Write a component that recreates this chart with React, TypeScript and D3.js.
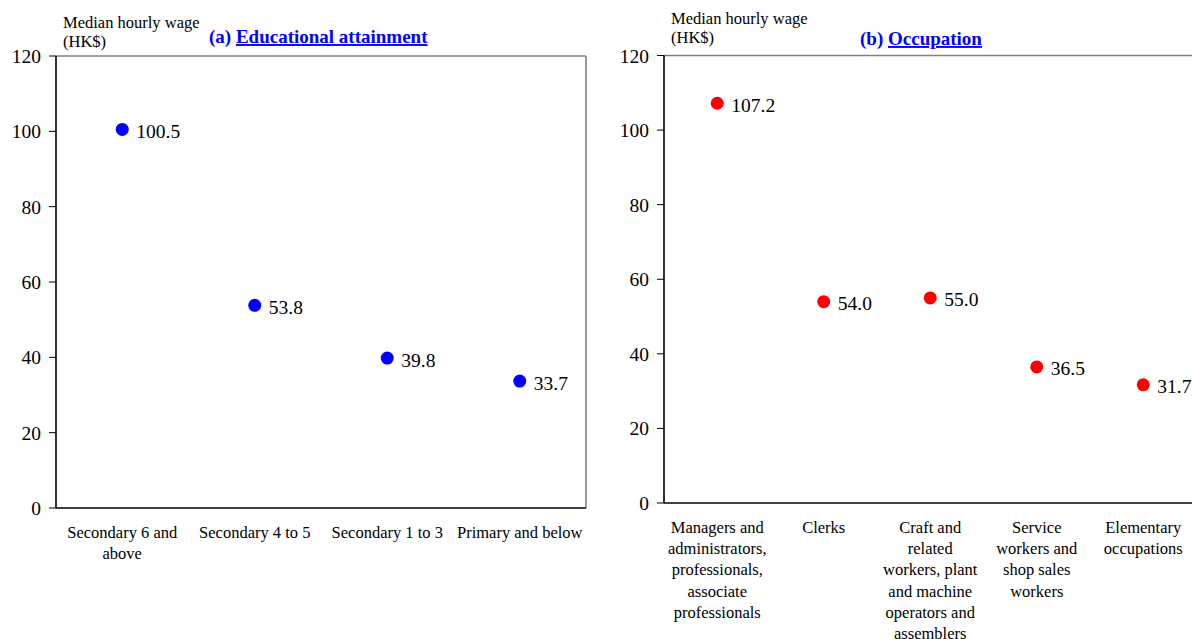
import React from "react";
import * as d3 from "d3";

// Panel (a): median hourly wage by educational attainment
const eduCategories: string[][] = [
  ["Secondary 6 and", "above"],
  ["Secondary 4 to 5"],
  ["Secondary 1 to 3"],
  ["Primary and below"],
];
const eduValues: number[] = [100.5, 53.8, 39.8, 33.7];

// Panel (b): median hourly wage by occupation
const occCategories: string[][] = [
  ["Managers and", "administrators,", "professionals,", "associate", "professionals"],
  ["Clerks"],
  ["Craft and", "related", "workers, plant", "and machine", "operators and", "assemblers"],
  ["Service", "workers and", "shop sales", "workers"],
  ["Elementary", "occupations"],
];
const occValues: number[] = [107.2, 54.0, 55.0, 36.5, 31.7];

const yTicks: number[] = [0, 20, 40, 60, 80, 100, 120];

const FONT = "'Liberation Serif', 'Times New Roman', serif";

interface PanelProps {
  left: number;
  right: number;
  top: number;
  bottom: number;
  categories: string[][];
  values: number[];
  color: string;
  prefix: string;
  title: string;
  titleX: number;
  titleY: number;
  unitY: number;
  drawRightBorder: boolean;
}

function Panel(p: PanelProps) {
  const keys = p.categories.map((c) => c.join(" "));
  const x = d3.scaleBand<string>().domain(keys).range([p.left, p.right]).padding(0);
  const y = d3.scaleLinear().domain([0, 120]).range([p.bottom, p.top]);
  const cx = (i: number) => (x(keys[i]) as number) + x.bandwidth() / 2;

  return (
    <g>
      {/* plot frame: grey top and right edges */}
      <line x1={p.left} x2={p.right} y1={p.top} y2={p.top} stroke="#808080" strokeWidth={1.6} />
      {p.drawRightBorder && (
        <line x1={p.right} x2={p.right} y1={p.top} y2={p.bottom} stroke="#808080" strokeWidth={1.6} />
      )}
      {/* axes */}
      <line x1={p.left} x2={p.left} y1={p.top} y2={p.bottom} stroke="#000" strokeWidth={1.6} />
      <line x1={p.left} x2={p.right} y1={p.bottom} y2={p.bottom} stroke="#000" strokeWidth={1.6} />
      {yTicks.map((t) => (
        <g key={t}>
          <line x1={p.left - 7} x2={p.left} y1={y(t)} y2={y(t)} stroke="#000" strokeWidth={1} />
          <text
            x={p.left - 15}
            y={y(t) + 7}
            textAnchor="end"
            fontFamily={FONT}
            fontSize={19.5}
            fill="#000"
          >
            {t}
          </text>
        </g>
      ))}
      {/* category labels */}
      {p.categories.map((lines, i) => (
        <text
          key={keys[i]}
          x={cx(i)}
          y={p.bottom + 30}
          textAnchor="middle"
          fontFamily={FONT}
          fontSize={16.5}
          fill="#000"
        >
          {lines.map((ln, j) => (
            <tspan key={j} x={cx(i)} dy={j === 0 ? 0 : 21.2}>
              {ln}
            </tspan>
          ))}
        </text>
      ))}
      {/* points with value labels */}
      {p.values.map((v, i) => (
        <g key={keys[i]}>
          <circle cx={cx(i)} cy={y(v)} r={6.5} fill={p.color} />
          <text
            x={cx(i) + 14}
            y={y(v) + 8.5}
            fontFamily={FONT}
            fontSize={19.5}
            fill="#000"
          >
            {v.toFixed(1)}
          </text>
        </g>
      ))}
      {/* axis unit */}
      <text fontFamily={FONT} fontSize={16.5} fill="#000">
        <tspan x={p.left + 7} y={p.unitY}>
          Median hourly wage
        </tspan>
        <tspan x={p.left + 7} y={p.unitY + 19.5}>
          (HK$)
        </tspan>
      </text>
      {/* panel title */}
      <text
        x={p.titleX}
        y={p.titleY}
        fontFamily={FONT}
        fontSize={19}
        fontWeight="bold"
        fill="#0000FF"
      >
        <tspan>{p.prefix} </tspan>
        <tspan textDecoration="underline" style={{ textDecorationThickness: "2px" }}>
          {p.title}
        </tspan>
      </text>
    </g>
  );
}

export default function App() {
  return (
    <svg
      width={1192}
      height={639}
      style={{ position: "absolute", left: 0, top: 0, background: "#fff" }}
    >
      <rect width={1192} height={639} fill="#fff" />
      <Panel
        left={56}
        right={586}
        top={56}
        bottom={508}
        categories={eduCategories}
        values={eduValues}
        color="#0000FF"
        prefix="(a)"
        title="Educational attainment"
        titleX={209}
        titleY={43}
        unitY={27.5}
        drawRightBorder={true}
      />
      <Panel
        left={664}
        right={1196.5}
        top={55.5}
        bottom={503}
        categories={occCategories}
        values={occValues}
        color="#FF0000"
        prefix="(b)"
        title="Occupation"
        titleX={860}
        titleY={45}
        unitY={23.5}
        drawRightBorder={false}
      />
    </svg>
  );
}
